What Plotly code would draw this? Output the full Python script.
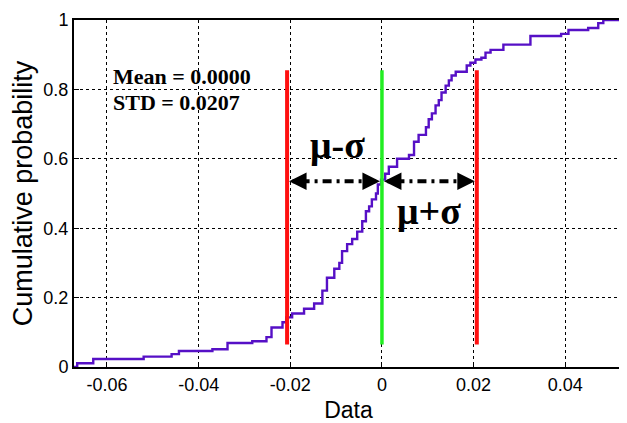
import plotly.graph_objects as go

cdf_x = [-0.0672, -0.0665, -0.0630, -0.0520, -0.0459, -0.0443, -0.0370, -0.0337,
         -0.0283, -0.0252, -0.0241, -0.0217, -0.0209, -0.0196, -0.0170, -0.0148,
         -0.0130, -0.0120, -0.0104, -0.0093, -0.0087, -0.0076, -0.0065, -0.0054,
         -0.0043, -0.0035, -0.0028, -0.0022, -0.0013, -0.0009, -0.0002, 0.0007,
         0.0015, 0.0033, 0.0059, 0.0070, 0.0080, 0.0096, 0.0102, 0.0109,
         0.0117, 0.0124, 0.0130, 0.0139, 0.0146, 0.0152, 0.0161, 0.0185,
         0.0193, 0.0204, 0.0217, 0.0226, 0.0237, 0.0265, 0.0324, 0.0391,
         0.0407, 0.0450, 0.0472, 0.0483, 0.0526]
cdf_y = [0.000, 0.011, 0.023, 0.030, 0.037, 0.046, 0.051, 0.069,
         0.074, 0.086, 0.114, 0.129, 0.143, 0.154, 0.168, 0.183,
         0.220, 0.257, 0.283, 0.300, 0.334, 0.354, 0.369, 0.390,
         0.420, 0.449, 0.463, 0.483, 0.500, 0.526, 0.540, 0.557,
         0.577, 0.600, 0.611, 0.649, 0.669, 0.691, 0.714, 0.731,
         0.754, 0.769, 0.791, 0.811, 0.826, 0.840, 0.851, 0.869,
         0.877, 0.886, 0.891, 0.906, 0.914, 0.929, 0.954, 0.960,
         0.971, 0.977, 0.991, 1.000, 1.000]

mean_val = 0.0
std_val = 0.0207
marker_lo, marker_hi = 0.065, 0.855
arrow_y = 0.535

x_ticks = [-0.06, -0.04, -0.02, 0, 0.02, 0.04]
x_labels = ["-0.06", "-0.04", "-0.02", "0", "0.02", "0.04"]
y_ticks = [0, 0.2, 0.4, 0.6, 0.8, 1]
y_labels = ["0", "0.2", "0.4", "0.6", "0.8", "1"]

fig = go.Figure()

# dash-dot arrow shafts
for x0, x1 in [(mean_val - std_val, mean_val), (mean_val, mean_val + std_val)]:
    fig.add_trace(go.Scatter(x=[x0 + 0.0012, x1 - 0.0012], y=[arrow_y, arrow_y], mode="lines",
                             line=dict(color="black", width=4, dash="3px,5px,9px,5px"),
                             showlegend=False, hoverinfo="skip"))

fig.add_trace(go.Scatter(x=cdf_x, y=cdf_y, mode="lines", line_shape="hv",
                         line=dict(color="#5610c6", width=2.4), showlegend=False))

for xv, col, w in [(mean_val - std_val, "#ff1010", 4), (mean_val, "#22ee22", 3.5),
                   (mean_val + std_val, "#ff1010", 4)]:
    fig.add_trace(go.Scatter(x=[xv, xv], y=[marker_lo, marker_hi], mode="lines",
                             line=dict(color=col, width=w), showlegend=False))

# arrow heads
heads = [(mean_val - std_val, 16), (mean_val, -16), (mean_val, 16), (mean_val + std_val, -16)]
for xh, ax in heads:
    fig.add_annotation(x=xh, y=arrow_y, ax=ax, ay=0, text="", showarrow=True,
                       arrowhead=2, arrowsize=1.4, arrowwidth=2.5, arrowcolor="black",
                       standoff=2)

serif = "Liberation Serif"
fig.add_annotation(x=-0.0592, y=0.837, text="<b>Mean = 0.0000</b>", showarrow=False,
                   xanchor="left", font=dict(family=serif, size=22, color="black"))
fig.add_annotation(x=-0.0592, y=0.763, text="<b>STD = 0.0207</b>", showarrow=False,
                   xanchor="left", font=dict(family=serif, size=22, color="black"))
fig.add_annotation(x=-0.0098, y=0.64, text="<b>μ-σ</b>", showarrow=False,
                   font=dict(family=serif, size=38, color="black"))
fig.add_annotation(x=0.0102, y=0.449, text="<b>μ+σ</b>", showarrow=False,
                   font=dict(family=serif, size=38, color="black"))

axis_common = dict(showline=True, linecolor="black", linewidth=2, mirror=True,
                   showgrid=True, gridcolor="black", gridwidth=1, griddash="3px,3px",
                   zeroline=False, ticks="inside", ticklen=5, tickcolor="black",
                   ticklabeloverflow="allow",
                   tickfont=dict(family="Liberation Sans", size=18, color="black"))

fig.update_xaxes(range=[-0.0672, 0.0526], tickvals=x_ticks, ticktext=x_labels,
                 title=dict(text="Data", font=dict(family="Liberation Sans", size=23, color="black"),
                            standoff=8), **axis_common)
fig.update_yaxes(range=[0, 1], tickvals=y_ticks, ticktext=y_labels,
                 title=dict(text="Cumulative probability",
                            font=dict(family="Liberation Sans", size=27, color="black"),
                            standoff=3), **axis_common)

# the page adds an 8px body margin, so the figure is a little smaller than the window
fig.update_layout(width=619, height=415, margin=dict(l=66, r=2, t=9, b=56),
                  plot_bgcolor="white", paper_bgcolor="white")

fig.write_html("out.html")
